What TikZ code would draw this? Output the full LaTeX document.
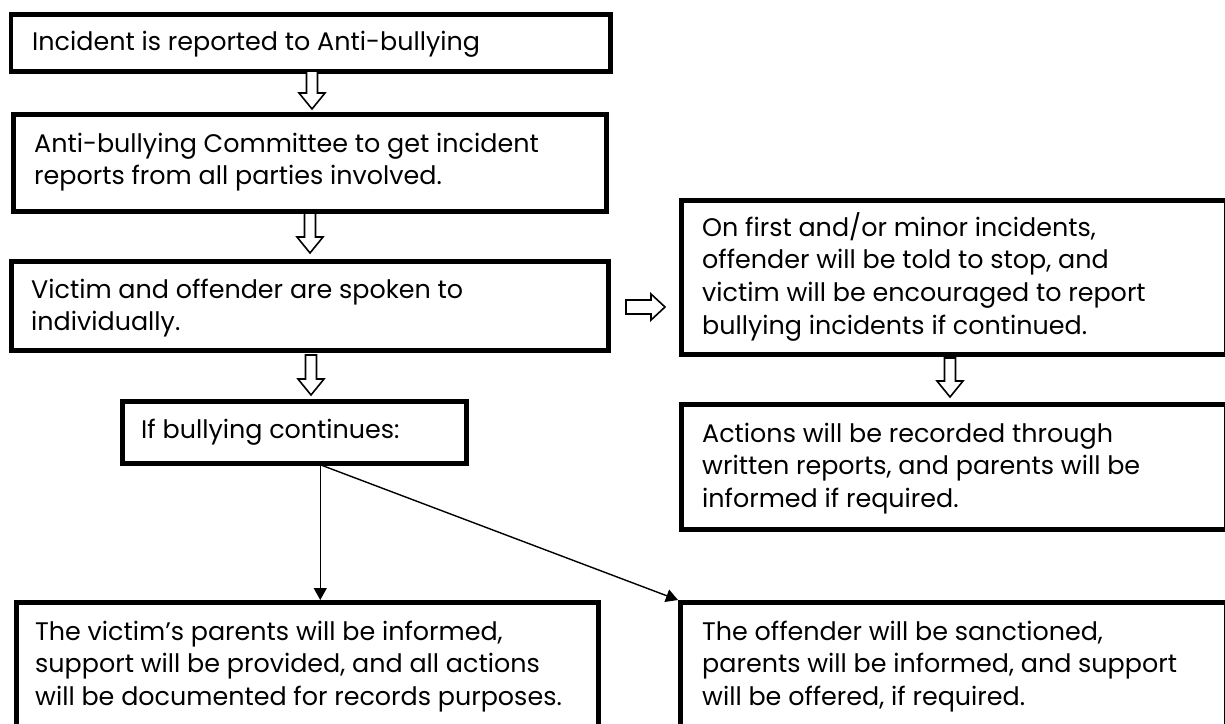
\documentclass[tikz,border=0pt]{standalone}
\usepackage{fontspec}
\setmainfont{Poppins}
\usetikzlibrary{arrows.meta}
\tikzset{
  box/.style={draw=black, line width=4.5pt, anchor=north west, inner sep=0pt, fill=white},
  txt/.style={anchor=base west, align=left, inner sep=0pt, font=\fontsize{25.4}{32.7}\selectfont},
  conn/.style={draw=black, line width=1.4pt, -{Triangle[length=12pt,width=13pt]}},
  hollow/.style={draw=black, line width=1.6pt, fill=white, line join=miter}
}
\newcommand{\boxat}[5]{\node[box, minimum width=#4-#2, minimum height=#5-#3] (#1) at (#2,#3) {};}
\newcommand{\hdown}[3]{% x, ytop, ytip
  \draw[hollow] (#1-5.5,#2) -- (#1+5.5,#2) -- (#1+5.5,#3-16) -- (#1+13,#3-16) -- (#1,#3) -- (#1-13,#3-16) -- (#1-5.5,#3-16) -- cycle;}
\begin{document}
\begin{tikzpicture}[x=1pt,y=-1pt]
\clip (0,0) rectangle (1225,723);
\fill[white] (0,0) rectangle (1225,723);
% boxes
\boxat{b1}{8.5}{12}{608}{69}
\boxat{b2}{11}{112}{604}{209}
\boxat{b3}{9}{259}{606}{348}
\boxat{b4}{679}{198}{1224}{352}
\boxat{b5}{679}{402}{1224}{527}
\boxat{bi}{120}{399}{464}{461}
\boxat{b6}{14}{600}{596}{740}
\boxat{b7}{678}{600}{1224}{740}
% texts (anchored at the baseline of the last line)
\node[txt] (t1) at (32,50) {Incident is reported to Anti-bullying};
\node[txt] (t2) at (34,184.7) {Anti-bullying Committee to get incident\\reports from all parties involved.};
\node[txt] (t3) at (31,330.7) {Victim and offender are spoken to\\individually.};
\node[txt] (t4) at (702,334.1) {On first and/or minor incidents,\\offender will be told to stop, and\\victim will be encouraged to report\\bullying incidents if continued.};
\node[txt] (t5) at (702,507.4) {Actions will be recorded through\\written reports, and parents will be\\informed if required.};
\node[txt] (ti) at (141,438) {If bullying continues:};
\node[txt] (t6) at (35,705.4) {The victim’s parents will be informed,\\support will be provided, and all actions\\will be documented for records purposes.};
\node[txt] (t7) at (702,705.4) {The offender will be sanctioned,\\parents will be informed, and support\\will be offered, if required.};
% hollow block arrows
\hdown{312}{71}{109}
\hdown{310}{213}{253}
\hdown{311}{355}{395}
\hdown{950}{358}{397}
\draw[hollow] (626,300) -- (651,300) -- (651,294) -- (665,307) -- (651,320) -- (651,314) -- (626,314) -- cycle;
% thin connectors
\draw[conn] ([xshift=26pt]bi.south) -- ([xshift=26pt]bi.south |- b6.north);
\draw[conn] ([xshift=28pt]bi.south) -- (b7.north west);
\end{tikzpicture}
\end{document}
